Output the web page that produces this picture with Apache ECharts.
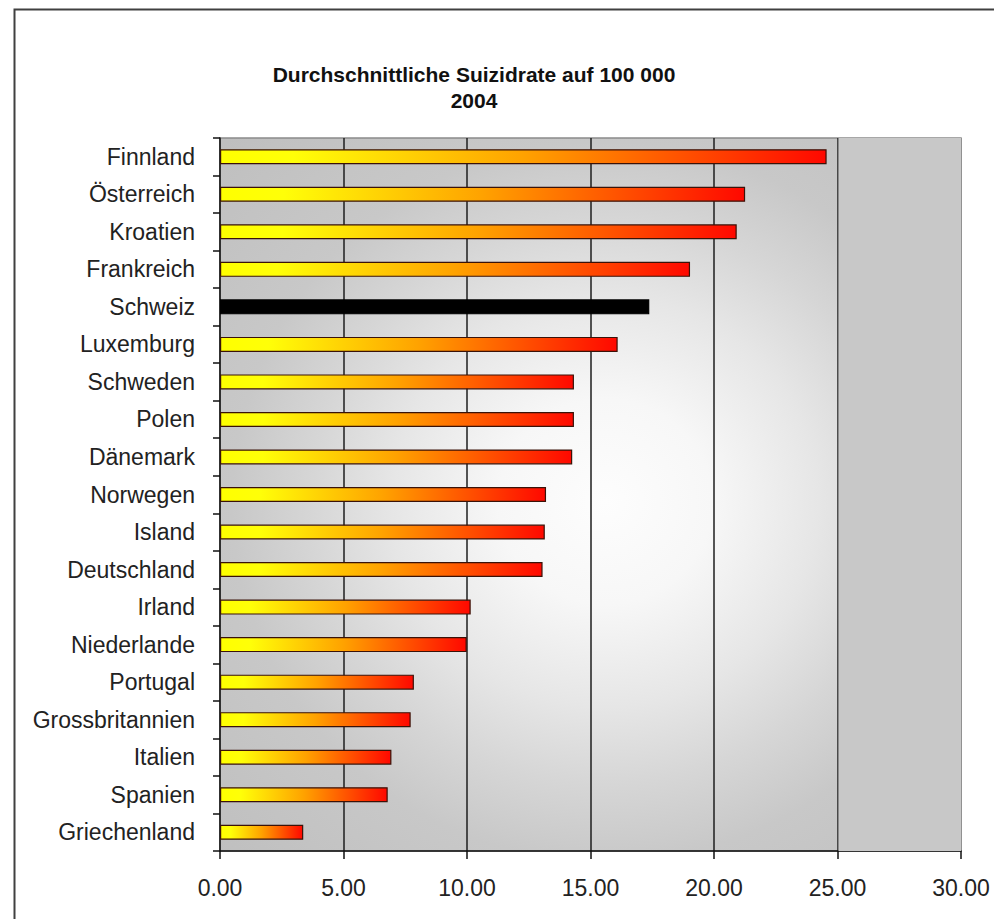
<!DOCTYPE html>
<html>
<head>
<meta charset="utf-8">
<title>Durchschnittliche Suizidrate auf 100 000 – 2004</title>
<script src="https://cdn.jsdelivr.net/npm/echarts@6/dist/echarts.min.js"></script>
<style>
  html, body { margin: 0; padding: 0; background: #ffffff; }
  #chart { width: 994px; height: 919px; }
</style>
</head>
<body>
<div id="chart"></div>
<script>
// Länder (von oben nach unten) und Suizidrate je 100 000 Einwohner, 2004
const categories = [
  'Finnland', 'Österreich', 'Kroatien', 'Frankreich', 'Schweiz', 'Luxemburg',
  'Schweden', 'Polen', 'Dänemark', 'Norwegen', 'Island', 'Deutschland',
  'Irland', 'Niederlande', 'Portugal', 'Grossbritannien', 'Italien',
  'Spanien', 'Griechenland'
];
const rates = [
  24.56, 21.26, 20.92, 19.03, 17.38, 16.10,
  14.33, 14.33, 14.26, 13.20, 13.15, 13.06,
  10.15, 9.99, 7.85, 7.72, 6.94,
  6.79, 3.37
];
const highlighted = 'Schweiz';
const titleLines = ['Durchschnittliche Suizidrate auf 100 000', '2004'];
const xMin = 0, xMax = 30, xStep = 5;
// flat gray band at the right end of the value axis
const shadedBand = [25.04, 30];

const FONT = '"Liberation Sans", Arial, sans-serif';

const barGradient = {
  type: 'linear', x: 0, y: 0, x2: 1, y2: 0,
  colorStops: [
    { offset: 0, color: '#ffff00' },
    { offset: 0.12, color: '#ffff08' },
    { offset: 0.5, color: '#ffa200' },
    { offset: 1, color: '#ff0800' }
  ]
};

const plotBackground = {
  type: 'radial', x: 0.52, y: 0.51, r: 0.72,
  colorStops: [
    { offset: 0, color: '#fdfdfd' },
    { offset: 0.2, color: '#f7f7f7' },
    { offset: 0.4, color: '#e6e6e6' },
    { offset: 0.55, color: '#d6d6d6' },
    { offset: 0.7, color: '#c8c8c8' },
    { offset: 1, color: '#bfbfbf' }
  ]
};

const barData = categories.map((name, i) => ({
  value: rates[i],
  itemStyle: name === highlighted
    ? { color: '#000000', borderColor: '#000000' }
    : { color: barGradient, borderColor: '#3a1208' }
}));

// dark grid lines inside, gray at the plot edges (0 and 30)
const splitColors = [];
for (let v = xMin; v <= xMax; v += xStep) {
  splitColors.push(v === xMin || v === xMax ? '#8a8a8a' : '#1e1e1e');
}

const chart = echarts.init(document.getElementById('chart'), null, { renderer: 'svg' });

chart.setOption({
  backgroundColor: '#ffffff',
  animation: false,
  graphic: [
    {
      type: 'rect', left: 12, top: 7, silent: true,
      shape: { width: 1000, height: 1000 },
      style: { fill: 'none', stroke: '#404040', lineWidth: 2 }
    },
    {
      type: 'text', x: 474, y: 87, silent: true,
      style: {
        text: titleLines.join('\n'), fill: '#111111',
        font: 'bold 21px ' + FONT, align: 'center', verticalAlign: 'middle',
        lineHeight: 26
      }
    }
  ],
  grid: {
    left: 220, right: 33, top: 138, bottom: 68,
    show: true,
    backgroundColor: plotBackground,
    borderColor: '#8a8a8a', borderWidth: 1.5
  },
  xAxis: {
    type: 'value', min: xMin, max: xMax, interval: xStep,
    axisLine: { show: true, onZero: false, lineStyle: { color: '#111111', width: 1.5 } },
    axisTick: { show: true, length: 8, lineStyle: { color: '#111111', width: 1.5 } },
    axisLabel: {
      color: '#222222', fontSize: 23, fontFamily: FONT, margin: 25,
      formatter: v => v.toFixed(2)
    },
    splitLine: { show: true, lineStyle: { color: splitColors, width: 1.5 } }
  },
  yAxis: {
    type: 'category', data: categories, inverse: true,
    axisLine: { show: true, lineStyle: { color: '#111111', width: 1.5 } },
    axisTick: { show: true, length: 7, alignWithLabel: false, lineStyle: { color: '#111111', width: 1.5 } },
    axisLabel: { color: '#222222', fontSize: 23, fontFamily: FONT, margin: 25 },
    splitLine: { show: false }
  },
  series: [{
    type: 'bar',
    data: barData,
    barWidth: 15,
    itemStyle: { borderWidth: 1.2 },
    markArea: {
      silent: true,
      itemStyle: { color: '#c8c8c8' },
      data: [[{ xAxis: shadedBand[0] }, { xAxis: shadedBand[1] }]]
    }
  }]
});
</script>
</body>
</html>
